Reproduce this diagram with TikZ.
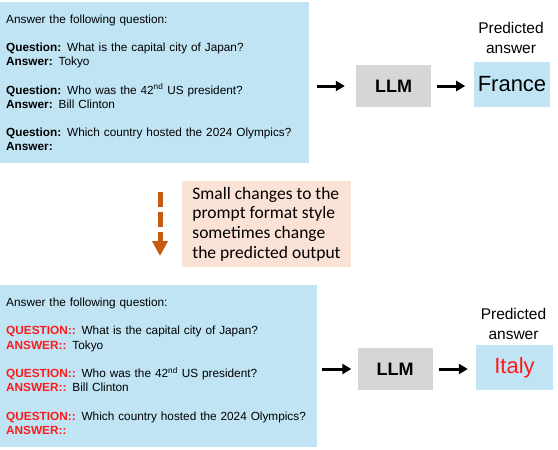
\documentclass[tikz,border=0pt]{standalone}
\usepackage{fontspec}
\setmainfont{Liberation Sans}
\newfontfamily\notefont{Carlito}
\usetikzlibrary{arrows.meta}
\definecolor{promptblue}{HTML}{C0E4F4}
\definecolor{llmgray}{HTML}{D6D6D6}
\definecolor{notepeach}{HTML}{FBE2D6}
\definecolor{noteorange}{HTML}{C55A11}
\definecolor{fmtred}{HTML}{FF1A1A}
\newcommand{\plainkey}[1]{\textbf{#1}}
\newcommand{\redkey}[1]{\textcolor{fmtred}{\textbf{#1}}}
\begin{document}
\begin{tikzpicture}[x=1pt,y=-1pt,
  prompt/.style={fill=promptblue,anchor=north west,align=left,inner xsep=6pt,
    font=\fontsize{11.8}{14.2}\selectfont},
  llm/.style={fill=llmgray,minimum width=75pt,minimum height=42pt,
    font=\fontsize{18}{20}\selectfont\bfseries},
  answer/.style={fill=promptblue,minimum height=45pt,font=\fontsize{22}{26}\selectfont},
  predlabel/.style={align=center,font=\fontsize{15.5}{19.5}\selectfont},
  flow/.style={line width=3pt,-{Triangle[length=9pt,width=10pt]}}]
\useasboundingbox (0,0) rectangle (558,450);
% erstes Prompt-Format
\node[prompt,minimum width=309pt,minimum height=161pt,text width=297pt] (prompt) at (0,2)
  {Answer the following question:\\[14.2pt]
   \plainkey{Question:} What is the capital city of Japan?\\
   \plainkey{Answer:} Tokyo\\[14.2pt]
   \plainkey{Question:} Who was the 42\textsuperscript{nd} US president?\\
   \plainkey{Answer:} Bill Clinton\\[14.2pt]
   \plainkey{Question:} Which country hosted the 2024 Olympics?\\
   \plainkey{Answer:}};
\node[llm] (llm) at (393.5,86) {LLM};
\node[answer,minimum width=74pt] (france) at (512,84.5) {France};
\node[predlabel,anchor=south] (pred) at (511,57) {Predicted\\answer};
\draw[flow,shorten <=8pt,shorten >=11pt] (prompt.east |- llm) -- (llm);
\draw[flow,shorten <=6pt,shorten >=9pt] (llm) -- (france.west |- llm);
% Hinweis in der Mitte
\coordinate (down1) at (160,192);
\coordinate (down2) at (160,256);
\draw[noteorange,line width=5pt,dash pattern=on 15pt off 5pt,
  -{Triangle[length=15pt,width=15pt]}] (down1) -- (down2);
\node[fill=notepeach,minimum width=169pt,minimum height=86pt,align=left,
  font=\notefont\fontsize{17.5}{19.7}\selectfont] (note) at (266.5,224)
  {Small changes to the\\prompt format style\\sometimes change\\the predicted output};
% zweites Prompt-Format
\node[prompt,minimum width=317pt,minimum height=162pt,text width=305pt] (prompt2) at (0,285)
  {Answer the following question:\\[14.2pt]
   \redkey{QUESTION::} What is the capital city of Japan?\\
   \redkey{ANSWER::} Tokyo\\[14.2pt]
   \redkey{QUESTION::} Who was the 42\textsuperscript{nd} US president?\\
   \redkey{ANSWER::} Bill Clinton\\[14.2pt]
   \redkey{QUESTION::} Which country hosted the 2024 Olympics?\\
   \redkey{ANSWER::}};
\node[llm] (llm2) at (395,369) {LLM};
\node[answer,minimum width=77pt,text=fmtred] (italy) at (514.5,367.5) {Italy};
\node[predlabel,anchor=south] (pred2) at (513.5,343) {Predicted\\answer};
\draw[flow,shorten <=5pt,shorten >=6pt] (prompt2.east |- llm2) -- (llm2);
\draw[flow,shorten <=6pt,shorten >=8pt] (llm2) -- (italy.west |- llm2);
\end{tikzpicture}
\end{document}
